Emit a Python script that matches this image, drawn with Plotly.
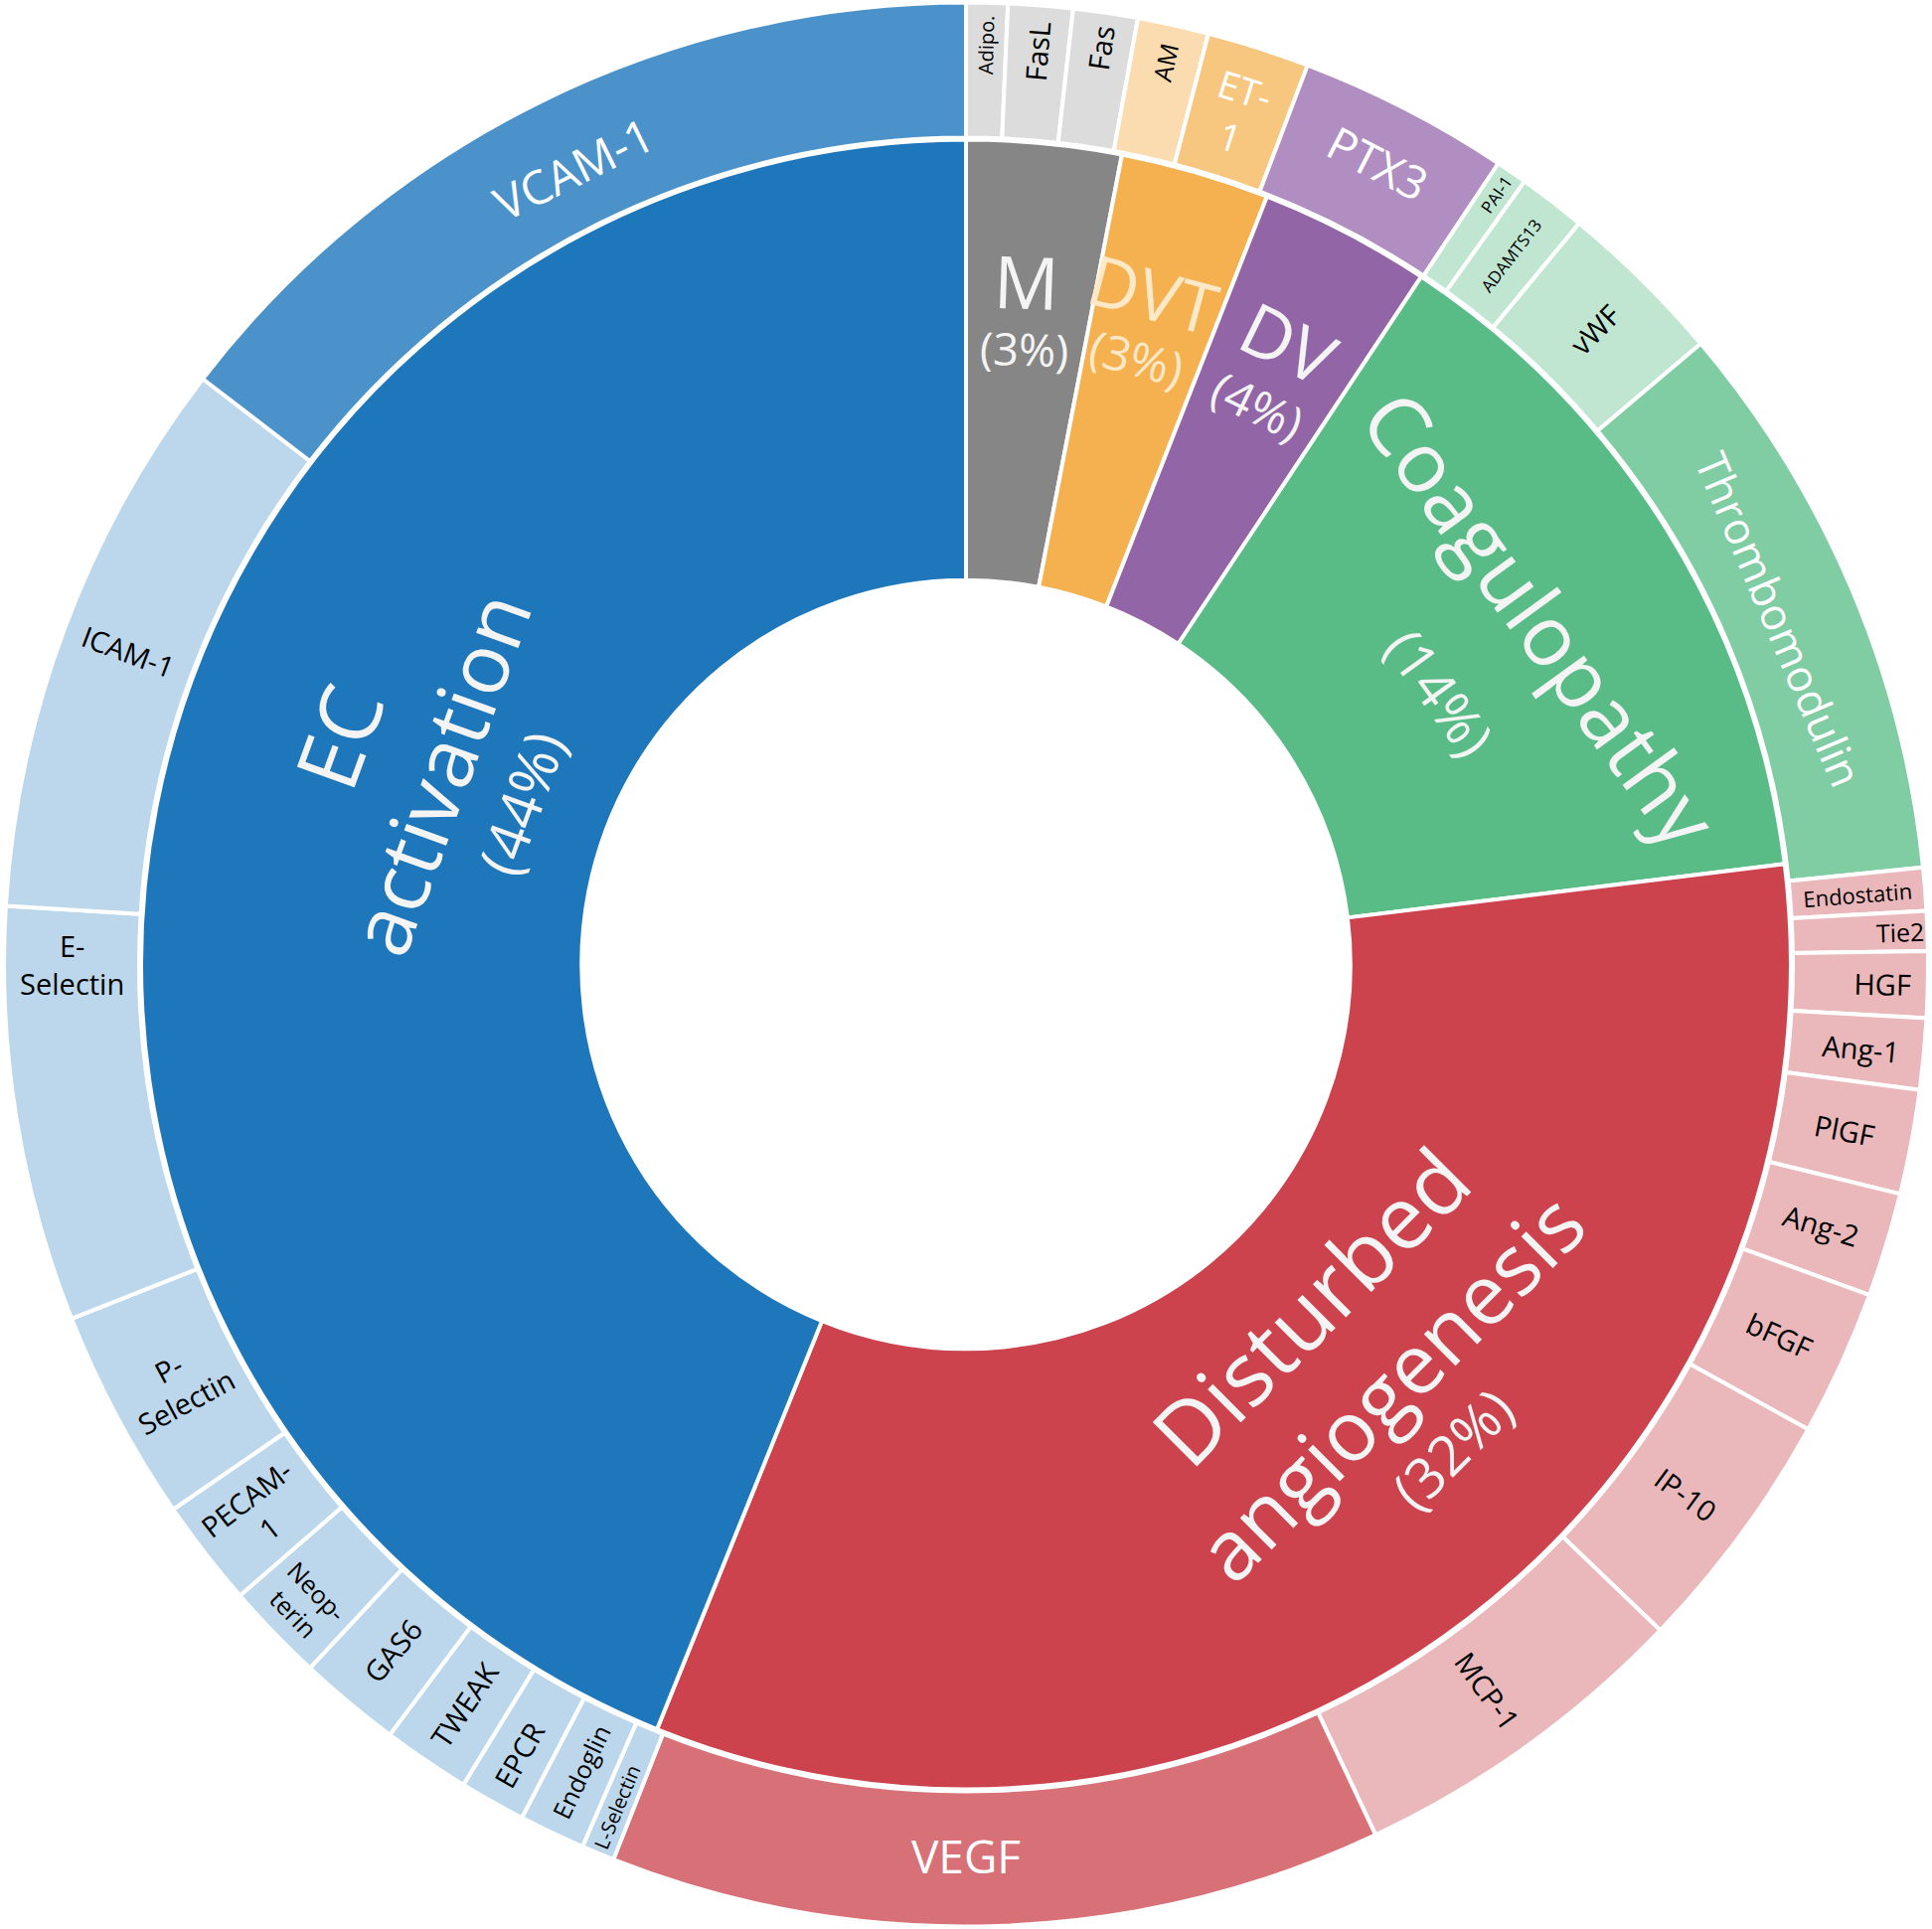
import math
import plotly.graph_objects as go

# Anel interno: grupos de biomarcadores
groups = ["M", "DVT", "DV", "Coagulopathy", "Disturbed angiogenesis", "EC activation"]
group_share = [10.9, 10.5, 12.1, 49.5, 119.0, 158.0]
group_pct = ["3%", "3%", "4%", "14%", "32%", "44%"]

# Anel externo: biomarcadores (sentido horário a partir das 12h)
markers = [
    "Adipo.", "FasL", "Fas",
    "AM", "ET-1",
    "PTX3",
    "PAI-1", "ADAMTS13", "vWF", "Thrombomodulin",
    "Endostatin", "Tie2", "HGF", "Ang-1", "PlGF", "Ang-2", "bFGF", "IP-10", "MCP-1", "VEGF",
    "L-Selectin", "Endoglin", "EPCR", "TWEAK", "GAS6", "Neopterin", "PECAM-1",
    "P-Selectin", "E-Selectin", "ICAM-1", "VCAM-1",
]
marker_parent = (
    ["M"] * 3 + ["DVT"] * 2 + ["DV"] + ["Coagulopathy"] * 4
    + ["Disturbed angiogenesis"] * 10 + ["EC activation"] * 11
)
marker_share = [
    2.5, 3.9, 3.9,
    4.3, 6.2,
    12.8,
    1.9, 4.1, 10.2, 34.4,
    2.6, 2.4, 4.0, 4.3, 6.3, 6.3, 8.8, 14.9, 21.0, 46.7,
    2.0, 4.0, 4.0, 5.3, 6.2, 6.0, 6.5, 12.9, 25.1, 34.0, 52.5,
]

# Estilos
FONT = "Open Sans"
R_REF = 968  # raio externo em px
group_colors = {
    "M": "#868686", "DVT": "#f5b04f", "DV": "#9265a6",
    "Coagulopathy": "#59bc86", "Disturbed angiogenesis": "#cc434e", "EC activation": "#1f77bb",
}
light_colors = {
    "M": "#dcdcdc", "DVT": "#fbdcb0", "DV": "#b18ec1",
    "Coagulopathy": "#c0e6d2", "Disturbed angiogenesis": "#eab8bb", "EC activation": "#bcd7eb",
}
special_colors = {"ET-1": "#f8c77f", "Thrombomodulin": "#80cca3", "VEGF": "#d87077", "VCAM-1": "#4a92c9"}
white_text = {"ET-1", "PTX3", "Thrombomodulin", "VEGF", "VCAM-1"}
tangential = {"ET-1", "PTX3", "Thrombomodulin", "VEGF", "Neopterin", "VCAM-1"}
display = {"E-Selectin": "E-<br>Selectin", "P-Selectin": "P-<br>Selectin", "PECAM-1": "PECAM-<br>1",
           "Neopterin": "Neop-<br>terin", "ET-1": "ET-<br>1"}
size_map = {"Adipo.": 20, "PAI-1": 17, "ADAMTS13": 17, "L-Selectin": 20, "Endostatin": 22,
            "Tie2": 25, "Endoglin": 25, "Neopterin": 25, "AM": 25,
            "ET-1": 38, "PTX3": 46, "Thrombomodulin": 44, "VEGF": 46, "VCAM-1": 47}

# Rótulos do anel interno: linhas, tamanhos, espaçamento (px), ângulo, raio relativo, rotação
inner_label = {
    "M": (["M"], [73, 45], [68], 5.2, 0.677, 2),
    "DVT": (["DVT"], [70, 48], [67], 15.6, 0.688, 15),
    "DV": (["DV"], [72, 48], [70], 27.4, 0.69, 26),
    "Coagulopathy": (["Coagulopathy"], [84, 55], [125], 59.5, 0.631, 54),
    "Disturbed angiogenesis": (["Disturbed", "angiogenesis"], [88, 84, 56], [113, 88], 134.9, 0.606, -45),
    "EC activation": (["EC", "activation"], [86, 84, 58], [107, 88], 290.0, 0.591, -70),
}

outer_colors = [special_colors.get(m, light_colors[p]) for m, p in zip(markers, marker_parent)]
outer_font_colors = ["white" if m in white_text else "black" for m in markers]
outer_sizes = [size_map.get(m, 29) for m in markers]
text_radial = ["" if m in tangential else display.get(m, m) for m in markers]
text_tang = [display.get(m, m) if m in tangential else "" for m in markers]

OUT_DOM = [0.0013, 0.9987]
IN_DOM = [0.0724, 0.9276]

fig = go.Figure()

# anel externo com rótulos radiais
fig.add_trace(go.Pie(
    labels=markers, values=marker_share, text=text_radial, textinfo="text",
    sort=False, direction="clockwise", rotation=0, hole=0.8595,
    domain=dict(x=OUT_DOM, y=OUT_DOM),
    marker=dict(colors=outer_colors, line=dict(color="white", width=4)),
    textposition="inside", insidetextorientation="radial",
    textfont=dict(family=FONT, size=outer_sizes, color=outer_font_colors),
    hoverinfo="label+value", showlegend=False,
))

# anel externo: camada transparente só para rótulos tangenciais
fig.add_trace(go.Pie(
    labels=markers, values=marker_share, text=text_tang, textinfo="text",
    sort=False, direction="clockwise", rotation=0, hole=0.8595,
    domain=dict(x=OUT_DOM, y=OUT_DOM),
    marker=dict(colors=["rgba(0,0,0,0)"] * len(markers), line=dict(width=0)),
    textposition="inside", insidetextorientation="tangential",
    textfont=dict(family=FONT, size=outer_sizes, color=outer_font_colors),
    hoverinfo="skip", showlegend=False,
))

# anel interno
fig.add_trace(go.Pie(
    labels=groups, values=group_share, textinfo="none",
    sort=False, direction="clockwise", rotation=0, hole=0.466,
    domain=dict(x=IN_DOM, y=IN_DOM),
    marker=dict(colors=[group_colors[g] for g in groups], line=dict(color="white", width=4)),
    hoverinfo="label+value", showlegend=False,
))

# Rótulos do anel interno como anotações rotacionadas
for g, pct in zip(groups, group_pct):
    lines, sizes, gaps, ang, frac, rot = inner_label[g]
    lines = lines + [f"({pct})"]
    pos = [0]
    for gap in gaps:
        pos.append(pos[-1] + gap)
    mid = (pos[0] + pos[-1]) / 2
    a, r = math.radians(ang), math.radians(rot)
    cx = 0.5 + 0.5 * frac * math.sin(a)
    cy = 0.5 + 0.5 * frac * math.cos(a)
    color = "#fde9c8" if g == "DVT" else "#f4f4f4"
    for txt, sz, p in zip(lines, sizes, pos):
        off = p - mid
        fig.add_annotation(
            x=cx + (-off * math.sin(r)) / (2 * R_REF),
            y=cy - (off * math.cos(r)) / (2 * R_REF),
            xref="paper", yref="paper", text=txt, showarrow=False,
            textangle=rot, xanchor="center", yanchor="middle",
            font=dict(family=FONT, size=sz, color=color),
        )

fig.update_layout(
    margin=dict(l=0, r=0, t=0, b=0),
    paper_bgcolor="white",
    plot_bgcolor="white",
    showlegend=False,
)

fig.write_html(
    "out.html",
    config={"displayModeBar": False},
    post_script="document.body.style.margin='0';Plotly.Plots.resize(document.getElementById('{plot_id}'));",
)
